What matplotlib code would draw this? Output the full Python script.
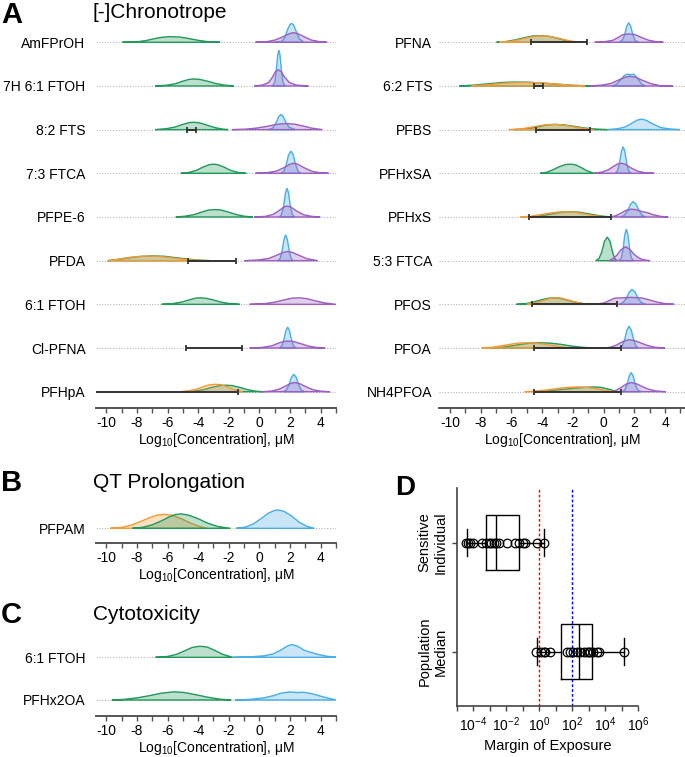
import numpy as np
import matplotlib.pyplot as plt
from matplotlib.ticker import FixedLocator, NullFormatter

plt.rcParams['font.family'] = ['Liberation Sans', 'DejaVu Sans']
plt.rcParams['mathtext.default'] = 'regular'
plt.rcParams['axes.unicode_minus'] = False

GREEN = '#22995a'
ORANGE = '#f39a38'
BLUE = '#4aaee6'
PURPLE = '#9b5fc0'
RANGE = '#333333'

# ---- panel A, left column (top row first); knots are (log10 conc, height in row units)
left_names = ['AmFPrOH', '7H 6:1 FTOH', '8:2 FTS', '7:3 FTCA', 'PFPE-6',
              'PFDA', '6:1 FTOH', 'Cl-PFNA', 'PFHpA']
left_green = [
    [(-8.95,0),(-8.0,.01),(-7.4,.04),(-6.9,.08),(-6.35,.115),(-5.8,.13),(-5.2,.12),(-4.6,.085),(-4.0,.045),(-3.4,.015),(-2.57,0)],
    [(-6.8,0),(-6.1,.015),(-5.5,.05),(-5.0,.11),(-4.6,.15),(-4.3,.16),(-3.9,.15),(-3.4,.11),(-2.9,.06),(-2.3,.02),(-1.66,0)],
    [(-6.8,0),(-6.1,.02),(-5.5,.06),(-5.0,.12),(-4.6,.16),(-4.3,.17),(-3.9,.155),(-3.4,.1),(-2.9,.045),(-2.4,.012),(-2.04,0)],
    [(-5.13,0),(-4.6,.02),(-4.1,.07),(-3.7,.14),(-3.3,.195),(-3.0,.21),(-2.7,.195),(-2.3,.14),(-1.9,.07),(-1.4,.02),(-0.86,0)],
    [(-5.46,0),(-4.8,.02),(-4.2,.06),(-3.7,.12),(-3.3,.16),(-2.9,.17),(-2.5,.16),(-2.0,.11),(-1.5,.055),(-1.0,.018),(-0.42,0)],
    [(-9.9,0),(-9.2,.03),(-8.5,.065),(-7.8,.095),(-7.0,.11),(-6.2,.1),(-5.5,.07),(-4.8,.04),(-4.0,.012),(-3.2,0)],
    [(-6.38,0),(-5.7,.015),(-5.1,.05),(-4.6,.1),(-4.2,.14),(-3.9,.15),(-3.5,.14),(-3.0,.1),(-2.5,.05),(-1.9,.015),(-1.3,0)],
    None,
    [(-4.9,0),(-4.2,.015),(-3.6,.05),(-3.1,.1),(-2.6,.14),(-2.2,.15),(-1.8,.14),(-1.3,.1),(-0.8,.05),(-0.3,.015),(0.18,0)],
]
left_orange = [
    None, None, None, None, None,
    [(-9.9,0),(-9.2,.035),(-8.5,.075),(-7.7,.1),(-7.0,.105),(-6.3,.09),(-5.6,.06),(-4.9,.03),(-4.2,.01),(-3.5,0)],
    None, None,
    [(-5.2,0),(-4.6,.02),(-4.1,.06),(-3.7,.11),(-3.3,.155),(-2.9,.17),(-2.5,.16),(-2.1,.11),(-1.7,.05),(-1.1,0)],
]
left_blue = [
    [(1.0,0),(1.45,.02),(1.65,.1),(1.85,.3),(2.0,.41),(2.1,.43),(2.22,.4),(2.4,.25),(2.6,.08),(2.9,0)],
    [(0.85,0),(1.0,.08),(1.1,.35),(1.2,.72),(1.27,.82),(1.34,.72),(1.44,.35),(1.54,.08),(1.7,0)],
    [(0.57,0),(0.85,.03),(1.05,.13),(1.25,.29),(1.4,.35),(1.55,.3),(1.75,.15),(1.95,.05),(2.37,0)],
    [(1.4,0),(1.6,.05),(1.75,.2),(1.9,.42),(2.06,.51),(2.2,.43),(2.35,.22),(2.5,.06),(2.7,0)],
    [(1.3,0),(1.45,.06),(1.58,.25),(1.7,.55),(1.8,.66),(1.9,.55),(2.02,.25),(2.15,.06),(2.3,0)],
    [(1.2,0),(1.35,.05),(1.48,.22),(1.6,.48),(1.71,.59),(1.82,.49),(1.95,.22),(2.07,.05),(2.2,0)],
    None,
    [(1.3,0),(1.47,.05),(1.6,.2),(1.73,.4),(1.84,.48),(1.96,.4),(2.09,.2),(2.22,.05),(2.4,0)],
    [(1.55,0),(1.75,.04),(1.92,.15),(2.08,.32),(2.24,.4),(2.4,.33),(2.56,.16),(2.72,.04),(2.95,0)],
]
left_purple = [
    [(-0.26,0),(0.5,.015),(1.0,.05),(1.5,.12),(1.9,.19),(2.2,.22),(2.5,.2),(2.9,.13),(3.4,.05),(3.9,.015),(4.4,0)],
    [(-0.33,0),(0.2,.02),(0.6,.08),(0.85,.2),(1.05,.33),(1.23,.37),(1.42,.33),(1.65,.2),(1.95,.08),(2.4,.02),(3.2,0)],
    [(-1.8,0),(-0.9,.01),(-0.2,.035),(0.5,.075),(1.1,.12),(1.7,.14),(2.3,.125),(2.9,.08),(3.4,.035),(4.12,0)],
    [(-0.26,0),(0.5,.015),(1.1,.05),(1.6,.13),(1.95,.2),(2.2,.23),(2.5,.21),(2.9,.13),(3.4,.05),(3.9,.015),(4.52,0)],
    [(-0.35,0),(0.4,.015),(0.9,.06),(1.3,.15),(1.6,.23),(1.8,.25),(2.05,.23),(2.4,.14),(2.9,.05),(3.4,.015),(3.97,0)],
    [(-0.97,0),(-0.1,.015),(0.6,.05),(1.1,.12),(1.55,.19),(1.85,.21),(2.15,.19),(2.6,.12),(3.1,.045),(3.82,0)],
    [(-0.64,0),(0.3,.015),(1.0,.05),(1.6,.1),(2.1,.14),(2.6,.15),(3.1,.13),(3.6,.085),(4.2,.035),(5.0,0)],
    [(-0.64,0),(0.2,.015),(0.8,.05),(1.3,.12),(1.6,.15),(1.85,.16),(2.2,.15),(2.7,.1),(3.2,.045),(3.7,.015),(4.29,0)],
    [(0.18,0),(0.8,.015),(1.3,.06),(1.7,.13),(2.05,.19),(2.3,.21),(2.6,.19),(3.0,.12),(3.5,.045),(4.0,.012),(4.6,0)],
]
left_range = [None, None, (-4.74, -4.13), None, None, (-4.67, -1.54), None, (-4.8, -1.11), (-12.0, -1.41)]

# ---- panel A, right column
right_names = ['PFNA', '6:2 FTS', 'PFBS', 'PFHxSA', 'PFHxS',
               '5:3 FTCA', 'PFOS', 'PFOA', 'NH4PFOA']
right_green = [
    [(-6.97,0),(-6.3,.02),(-5.7,.06),(-5.1,.11),(-4.6,.145),(-4.1,.15),(-3.6,.14),(-3.1,.1),(-2.6,.05),(-1.9,0)],
    [(-9.4,0),(-8.4,.02),(-7.5,.05),(-6.6,.08),(-5.8,.09),(-4.9,.085),(-4.0,.065),(-3.0,.04),(-2.0,.015),(-0.88,0)],
    [(-5.8,0),(-5.0,.02),(-4.4,.055),(-3.8,.1),(-3.2,.12),(-2.6,.11),(-2.0,.08),(-1.3,.04),(-0.5,.012),(0.24,0)],
    [(-4.13,0),(-3.7,.025),(-3.3,.08),(-2.9,.15),(-2.5,.2),(-2.1,.21),(-1.8,.19),(-1.45,.13),(-1.1,.06),(-0.62,0)],
    [(-4.92,0),(-4.2,.02),(-3.6,.055),(-3.0,.095),(-2.5,.118),(-2.1,.12),(-1.6,.11),(-1.0,.075),(-0.3,.03),(0.45,0)],
    [(-0.52,0),(-0.3,.05),(-0.12,.2),(0.05,.44),(0.24,.54),(0.42,.44),(0.58,.2),(0.72,.05),(0.88,0)],
    [(-5.68,0),(-5.0,.02),(-4.5,.06),(-4.0,.11),(-3.6,.14),(-3.3,.15),(-2.9,.14),(-2.4,.1),(-1.9,.05),(-1.3,.015),(-0.64,0)],
    [(-7.4,0),(-6.6,.02),(-5.9,.055),(-5.3,.09),(-4.7,.115),(-4.1,.12),(-3.5,.113),(-2.8,.085),(-2.1,.045),(-1.3,.015),(-0.6,0)],
    [(-4.6,0),(-3.8,.015),(-3.0,.04),(-2.2,.07),(-1.4,.095),(-0.7,.11),(-0.2,.1),(0.2,.07),(0.55,.035),(0.88,0)],
]
right_orange = [
    [(-6.8,0),(-6.1,.02),(-5.5,.06),(-4.9,.11),(-4.4,.14),(-3.9,.145),(-3.4,.13),(-2.9,.09),(-2.3,.04),(-1.6,0)],
    [(-8.6,0),(-7.6,.025),(-6.6,.06),(-5.6,.08),(-4.8,.08),(-3.9,.065),(-3.0,.04),(-2.1,.015),(-1.2,0)],
    [(-6.17,0),(-5.4,.015),(-4.8,.05),(-4.2,.09),(-3.7,.115),(-3.3,.12),(-2.8,.11),(-2.2,.08),(-1.6,.04),(-0.64,0)],
    None,
    [(-5.42,0),(-4.7,.02),(-4.1,.055),(-3.5,.09),(-2.9,.115),(-2.4,.12),(-1.9,.11),(-1.3,.075),(-0.6,.03),(0.1,0)],
    None,
    [(-5.0,0),(-4.5,.03),(-4.0,.08),(-3.6,.125),(-3.2,.15),(-2.8,.145),(-2.4,.11),(-1.9,.06),(-1.4,.02),(-0.9,0)],
    [(-7.94,0),(-7.2,.02),(-6.6,.055),(-6.0,.09),(-5.5,.115),(-5.0,.12),(-4.5,.115),(-3.9,.09),(-3.2,.05),(-2.5,.015),(-1.9,0)],
    [(-5.14,0),(-4.4,.015),(-3.7,.04),(-3.0,.075),(-2.3,.1),(-1.7,.11),(-1.1,.1),(-0.5,.07),(0.1,.03),(0.8,0)],
]
right_blue = [
    [(1.0,0),(1.2,.04),(1.36,.16),(1.5,.36),(1.63,.45),(1.76,.37),(1.9,.17),(2.06,.04),(2.3,0)],
    [(0.56,0),(0.85,.04),(1.1,.14),(1.35,.24),(1.55,.27),(1.75,.255),(1.95,.27),(2.15,.2),(2.35,.1),(2.5,.04),(2.71,0)],
    [(0.24,0),(0.9,.02),(1.4,.06),(1.8,.14),(2.2,.22),(2.5,.24),(2.8,.21),(3.2,.13),(3.7,.05),(4.3,.015),(4.97,0)],
    [(0.75,0),(0.9,.05),(1.03,.22),(1.16,.5),(1.27,.61),(1.38,.5),(1.51,.22),(1.64,.05),(1.8,0)],
    [(1.1,0),(1.35,.04),(1.56,.14),(1.75,.29),(1.92,.35),(2.1,.3),(2.3,.15),(2.5,.04),(2.75,0)],
    [(1.0,0),(1.15,.06),(1.27,.27),(1.38,.6),(1.48,.72),(1.58,.6),(1.69,.27),(1.81,.06),(1.95,0)],
    [(1.0,0),(1.25,.04),(1.47,.13),(1.67,.28),(1.85,.34),(2.03,.29),(2.24,.14),(2.46,.04),(2.75,0)],
    [(1.05,0),(1.22,.05),(1.37,.2),(1.52,.41),(1.66,.5),(1.8,.41),(1.95,.2),(2.1,.05),(2.25,0)],
    [(1.2,0),(1.38,.04),(1.53,.17),(1.67,.36),(1.79,.44),(1.92,.36),(2.06,.17),(2.22,.04),(2.45,0)],
]
right_purple = [
    [(-0.58,0),(0.1,.015),(0.6,.045),(0.95,.11),(1.25,.175),(1.6,.19),(2.0,.18),(2.4,.12),(2.9,.05),(3.4,.015),(3.89,0)],
    [(-0.88,0),(-0.1,.02),(0.5,.06),(1.0,.14),(1.4,.2),(1.7,.22),(2.1,.2),(2.45,.14),(2.75,.1),(3.1,.05),(3.79,0),(4.15,0),(4.5,0)],
    None,
    [(-0.62,0),(-0.1,.03),(0.3,.08),(0.65,.16),(0.95,.22),(1.16,.23),(1.4,.21),(1.75,.13),(2.2,.05),(2.7,.012),(3.29,0)],
    [(0.45,0),(0.8,.03),(1.1,.08),(1.45,.15),(1.8,.18),(2.2,.16),(2.55,.12),(2.85,.1),(3.2,.055),(3.7,.015),(4.21,0)],
    [(0.34,0),(0.6,.04),(0.85,.12),(1.1,.24),(1.42,.32),(1.7,.26),(2.0,.14),(2.3,.06),(2.6,.02),(3.03,0)],
    [(-0.62,0),(0.0,.03),(0.4,.09),(0.7,.14),(1.2,.15),(1.8,.16),(2.5,.145),(3.0,.1),(3.5,.05),(4.0,.018),(4.6,0)],
    [(0.13,0),(0.5,.025),(0.85,.07),(1.2,.14),(1.63,.19),(2.0,.17),(2.4,.12),(2.8,.065),(3.3,.02),(4.0,0)],
    [(0.56,0),(0.85,.04),(1.15,.1),(1.45,.17),(1.8,.21),(2.15,.18),(2.5,.12),(2.9,.06),(3.4,.018),(4.06,0)],
]
right_range = [(-4.75, -1.08), (-4.56, -3.92), (-4.43, -0.88), None, (-4.86, 0.45),
               None, (-4.67, 0.84), (-4.54, 1.1), (-4.54, 1.1)]

# ---- panel B
qt_names = ['PFPAM']
qt_orange = [[(-9.74,0),(-9.0,.02),(-8.4,.07),(-7.8,.15),(-7.2,.24),(-6.7,.3),(-6.2,.32),(-5.7,.3),(-5.1,.22),(-4.5,.12),(-3.9,.04),(-3.4,0)]]
qt_green = [[(-8.3,0),(-7.6,.025),(-7.0,.08),(-6.4,.17),(-5.9,.26),(-5.5,.315),(-5.1,.33),(-4.6,.3),(-4.0,.22),(-3.4,.12),(-2.7,.04),(-1.89,0)]]
qt_blue = [[(-1.51,0),(-0.9,.03),(-0.4,.1),(0.1,.22),(0.6,.35),(1.0,.41),(1.2,.42),(1.6,.39),(2.1,.28),(2.6,.14),(3.1,.045),(3.59,0)]]

# ---- panel C (top row first)
cyto_names = ['6:1 FTOH', 'PFHx2OA']
cyto_green = [
    [(-6.78,0),(-6.0,.02),(-5.4,.07),(-4.9,.15),(-4.4,.23),(-3.9,.26),(-3.4,.24),(-2.9,.16),(-2.4,.07),(-1.74,0)],
    [(-9.63,0),(-8.8,.015),(-8.0,.05),(-7.2,.1),(-6.4,.16),(-5.6,.19),(-4.9,.175),(-4.1,.12),(-3.3,.06),(-2.6,.02),(-1.84,0)],
]
cyto_blue = [
    [(-1.74,0),(-0.6,.01),(0.3,.035),(0.9,.08),(1.4,.17),(1.8,.26),(2.1,.3),(2.5,.26),(2.9,.17),(3.3,.12),(3.8,.07),(4.4,.025),(5.02,0)],
    [(-1.6,0),(-0.6,.015),(0.3,.05),(0.9,.1),(1.4,.16),(2.0,.19),(2.4,.175),(2.9,.18),(3.4,.15),(3.9,.1),(4.4,.05),(5.02,0)],
]

# ---- panel D, margin of exposure (log10 values)
moe_sensitive = [-4.44, -4.33, -4.2, -4.04, -3.5, -3.23, -3.07, -2.93, -2.73,
                 -2.62, -2.45, -1.96, -1.45, -1.25, -0.97, -0.87, -0.14, 0.30]
moe_population = [-0.18, 0.12, 0.3, 0.36, 0.67, 1.68, 1.88, 2.08, 2.28,
                  2.48, 2.69, 2.89, 3.0, 3.09, 3.29, 3.5, 3.64, 5.17]
# whislo, q1, median, q3, whishi
box_sensitive = [-4.42, -3.23, -2.62, -1.21, 0.30]
box_population = [-0.14, 1.33, 2.42, 3.23, 5.17]
moe_labels = ['Population\nMedian', 'Sensitive\nIndividual']

FS = 10


def ridge(ax, row, knots, color):
    if knots is None:
        return
    xs = [k[0] for k in knots]
    ys = [row + k[1] for k in knots]
    ax.fill(xs, ys, facecolor=(color, 0.3), edgecolor=color, lw=1.0, zorder=2)


def add_range(ax, row, rng):
    if rng is None:
        return
    ax.plot(rng, [row, row], color=RANGE, lw=1.4, zorder=5, solid_capstyle='butt')
    ax.plot(rng, [row, row], ls='none', marker='|', ms=5, mew=1.3, color=RANGE, zorder=5)


def style_ridge(ax, xlim, ylim, names, rows, ypad):
    ax.set_xlim(xlim)
    ax.set_ylim(ylim)
    for s in ['top', 'right', 'left']:
        ax.spines[s].set_visible(False)
    ax.spines['bottom'].set_color('#555555')
    ax.spines['bottom'].set_linewidth(1.4)
    ax.set_xticks(np.arange(-10, 5, 2))
    ax.set_xticks(np.arange(-9, 6, 2), minor=True)
    ax.tick_params(axis='x', which='both', length=3.5, width=1, color='#555555',
                   labelsize=FS, pad=2)
    ax.set_yticks(rows)
    ax.set_yticklabels(names, fontsize=FS)
    ax.tick_params(axis='y', length=0, pad=ypad)
    for r in rows:
        ax.axhline(r, color='#b5b5b5', lw=0.8, ls=(0, (1, 1.5)), zorder=0)
    ax.set_xlabel('Log$_{10}$[Concentration], μM', fontsize=FS, labelpad=1)


W, H = 685, 757
fig = plt.figure(figsize=(W / 100, H / 100), dpi=100)


def axes_px(l, t, r, b):
    return fig.add_axes([l / W, 1 - b / H, (r - l) / W, (b - t) / H])


# panel A
rows9 = np.arange(8, -1, -1)
axL = axes_px(96, 20, 336, 408)
axR = axes_px(439, 20, 685, 408)
for ax, names, g, o, bl, p, rg, xl, pad in [
        (axL, left_names, left_green, left_orange, left_blue, left_purple, left_range, (-10.67, 5.0), 7.5),
        (axR, right_names, right_green, right_orange, right_blue, right_purple, right_range, (-10.72, 5.3), 5)]:
    for i, row in enumerate(rows9):
        ridge(ax, row, g[i], GREEN)
        ridge(ax, row, o[i], ORANGE)
        ridge(ax, row, bl[i], BLUE)
        ridge(ax, row, p[i], PURPLE)
        add_range(ax, row, rg[i])
    style_ridge(ax, xl, (-0.373, 8.51), names, rows9, pad)

# panel B
axB = axes_px(96, 500, 336, 543)
ridge(axB, 0, qt_orange[0], ORANGE)
ridge(axB, 0, qt_green[0], GREEN)
ridge(axB, 0, qt_blue[0], BLUE)
style_ridge(axB, (-10.67, 5.0), (-0.336, 0.648), qt_names, [0], 7.5)

# panel C
axC = axes_px(96, 630, 336, 716)
rows2 = [1, 0]
for i, row in enumerate(rows2):
    ridge(axC, row, cyto_green[i], GREEN)
    ridge(axC, row, cyto_blue[i], BLUE)
style_ridge(axC, (-10.67, 5.0), (-0.375, 1.64), cyto_names, rows2, 7.5)

# panel D
axD = axes_px(457, 488, 638, 706)
stats = []
for b, lab in zip([box_population, box_sensitive], moe_labels):
    v = 10.0 ** np.array(b)
    stats.append(dict(whislo=v[0], q1=v[1], med=v[2], q3=v[3], whishi=v[4], label=lab))
lp = dict(color='black', lw=1.0)
axD.bxp(stats, positions=[1, 2], widths=0.5, orientation='horizontal', showfliers=False,
        boxprops=lp, whiskerprops=lp, capprops=lp, medianprops=lp)
axD.plot(10.0 ** np.array(moe_population), np.full(len(moe_population), 1), 'o',
         mfc='none', mec='black', ms=6.2, mew=0.9, zorder=4)
axD.plot(10.0 ** np.array(moe_sensitive), np.full(len(moe_sensitive), 2), 'o',
         mfc='none', mec='black', ms=6.2, mew=0.9, zorder=4)
axD.axvline(1, color='red', lw=1.0, ls=(0, (2, 1.5)), zorder=1)
axD.axvline(100, color='blue', lw=1.0, ls=(0, (2, 1.5)), zorder=1)
axD.set_xscale('log')
axD.set_xlim(1e-5, 1e6)
axD.set_ylim(0.5, 2.5)
axD.xaxis.set_major_locator(FixedLocator([1e-4, 1e-2, 1e0, 1e2, 1e4, 1e6]))
axD.xaxis.set_minor_locator(FixedLocator([1e-5, 1e-3, 1e-1, 1e1, 1e3, 1e5]))
axD.xaxis.set_minor_formatter(NullFormatter())
for s in ['top', 'right']:
    axD.spines[s].set_visible(False)
for s in ['left', 'bottom']:
    axD.spines[s].set_color('#444444')
    axD.spines[s].set_linewidth(1.2)
axD.tick_params(axis='x', which='both', length=3.5, width=1, color='#444444', labelsize=FS, pad=3)
axD.set_yticks([1, 2])
axD.set_yticklabels(moe_labels, rotation=90, va='center', ha='right',
                    multialignment='center', fontsize=FS + 0.5)
axD.tick_params(axis='y', length=3.5, width=1, color='#444444', pad=3)
axD.set_xlabel('Margin of Exposure', fontsize=FS + 0.5, labelpad=4)

# titles and panel letters
fig.text(93 / W, 1 - 13 / H, '[-]Chronotrope', fontsize=15, va='center')
fig.text(93 / W, 1 - 483 / H, 'QT Prolongation', fontsize=15, va='center')
fig.text(93 / W, 1 - 615 / H, 'Cytotoxicity', fontsize=15, va='center')
fig.text(1 / W, 1 - 15 / H, 'A', fontsize=21, fontweight='bold', va='center')
fig.text(1 / W, 1 - 483 / H, 'B', fontsize=21, fontweight='bold', va='center')
fig.text(1 / W, 1 - 615 / H, 'C', fontsize=21, fontweight='bold', va='center')
fig.text(405 / W, 1 - 488 / H, 'D', fontsize=20, fontweight='bold', va='center', ha='center')

fig.savefig('out.png', dpi=100)
